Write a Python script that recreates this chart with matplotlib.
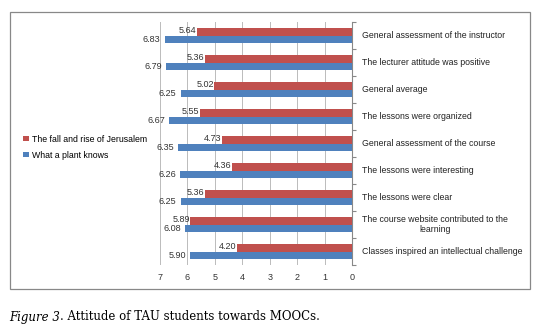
import numpy as np
import matplotlib.pyplot as plt
from matplotlib.patches import Rectangle

# survey items, top to bottom
items = [
    "General assessment of the instructor",
    "The lecturer attitude was positive",
    "General average",
    "The lessons were organized",
    "General assessment of the course",
    "The lessons were interesting",
    "The lessons were clear",
    "The course website contributed to the\nlearning",
    "Classes inspired an intellectual challenge",
]
jerusalem = [5.64, 5.36, 5.02, 5.55, 4.73, 4.36, 5.36, 5.89, 4.20]
plant = [6.83, 6.79, 6.25, 6.67, 6.35, 6.26, 6.25, 6.08, 5.90]

RED = "#C0504D"
BLUE = "#4F81BD"
plt.rcParams['font.family'] = ['Liberation Sans', 'DejaVu Sans']

fig = plt.figure(figsize=(5.49, 3.32), dpi=100)
ax = fig.add_axes([160 / 549, 1 - 265 / 332, 192 / 549, 243 / 332])

y = np.arange(len(items))
h = 0.28
ax.barh(y - h / 2, jerusalem, height=h, color=RED, label="The fall and rise of Jerusalem", zorder=3)
ax.barh(y + h / 2, plant, height=h, color=BLUE, label="What a plant knows", zorder=3)

for yi, v in zip(y, jerusalem):
    ax.text(v + 0.02, yi - h / 2 - 0.05, f"{v:.2f}", ha="right", va="center", fontsize=6.5, color="#333333")
for yi, v in zip(y, plant):
    ax.text(v + 0.15, yi + h / 2, f"{v:.2f}", ha="right", va="center", fontsize=6.5, color="#333333")

ax.set_xlim(7, 0)
ax.set_ylim(len(items) - 0.5, -0.5)
ax.set_xticks(range(0, 8))
ax.tick_params(axis="x", length=0, labelsize=6.5, colors="#333333", pad=6)
ax.yaxis.tick_right()
ax.set_yticks(np.arange(len(items) + 1) - 0.5, minor=False)
ax.set_yticklabels([])
ax.tick_params(axis="y", length=3, color="#888888", direction="out")
for yi, lab in zip(y, items):
    ax.text(-0.36, yi, lab, ha="left", va="center", fontsize=6.3,
            multialignment="center", color="#222222")

ax.grid(axis="x", color="#BBBBBB", linewidth=0.7, zorder=0)
for s in ["top", "left", "bottom"]:
    ax.spines[s].set_visible(False)
ax.spines["right"].set_color("#888888")
ax.spines["right"].set_linewidth(0.8)

ax.legend(loc="center left", bbox_to_anchor=(-0.73, 0.485), frameon=False,
          fontsize=6.3, handlelength=0.6, handleheight=0.6, handletextpad=0.4,
          labelspacing=0.8, borderaxespad=0)

# outer frame around the chart
fig.add_artist(Rectangle((10 / 549, 1 - 289 / 332), 520 / 549, 277 / 332,
                         transform=fig.transFigure, fill=False,
                         edgecolor="#888888", linewidth=0.9))

# caption: italic label followed by plain text
cap1 = fig.text(9 / 549, 1 - 317 / 332, "Figure 3", fontsize=8.5, style="italic",
                family="DejaVu Serif", va="center")
fig.canvas.draw()
bb = cap1.get_window_extent(renderer=fig.canvas.get_renderer())
x_next = bb.x1 / fig.bbox.width
fig.text(x_next, 1 - 317 / 332, ". Attitude of TAU students towards MOOCs.",
         fontsize=8.5, family="DejaVu Serif", va="center")

fig.savefig("out.png", dpi=100)
